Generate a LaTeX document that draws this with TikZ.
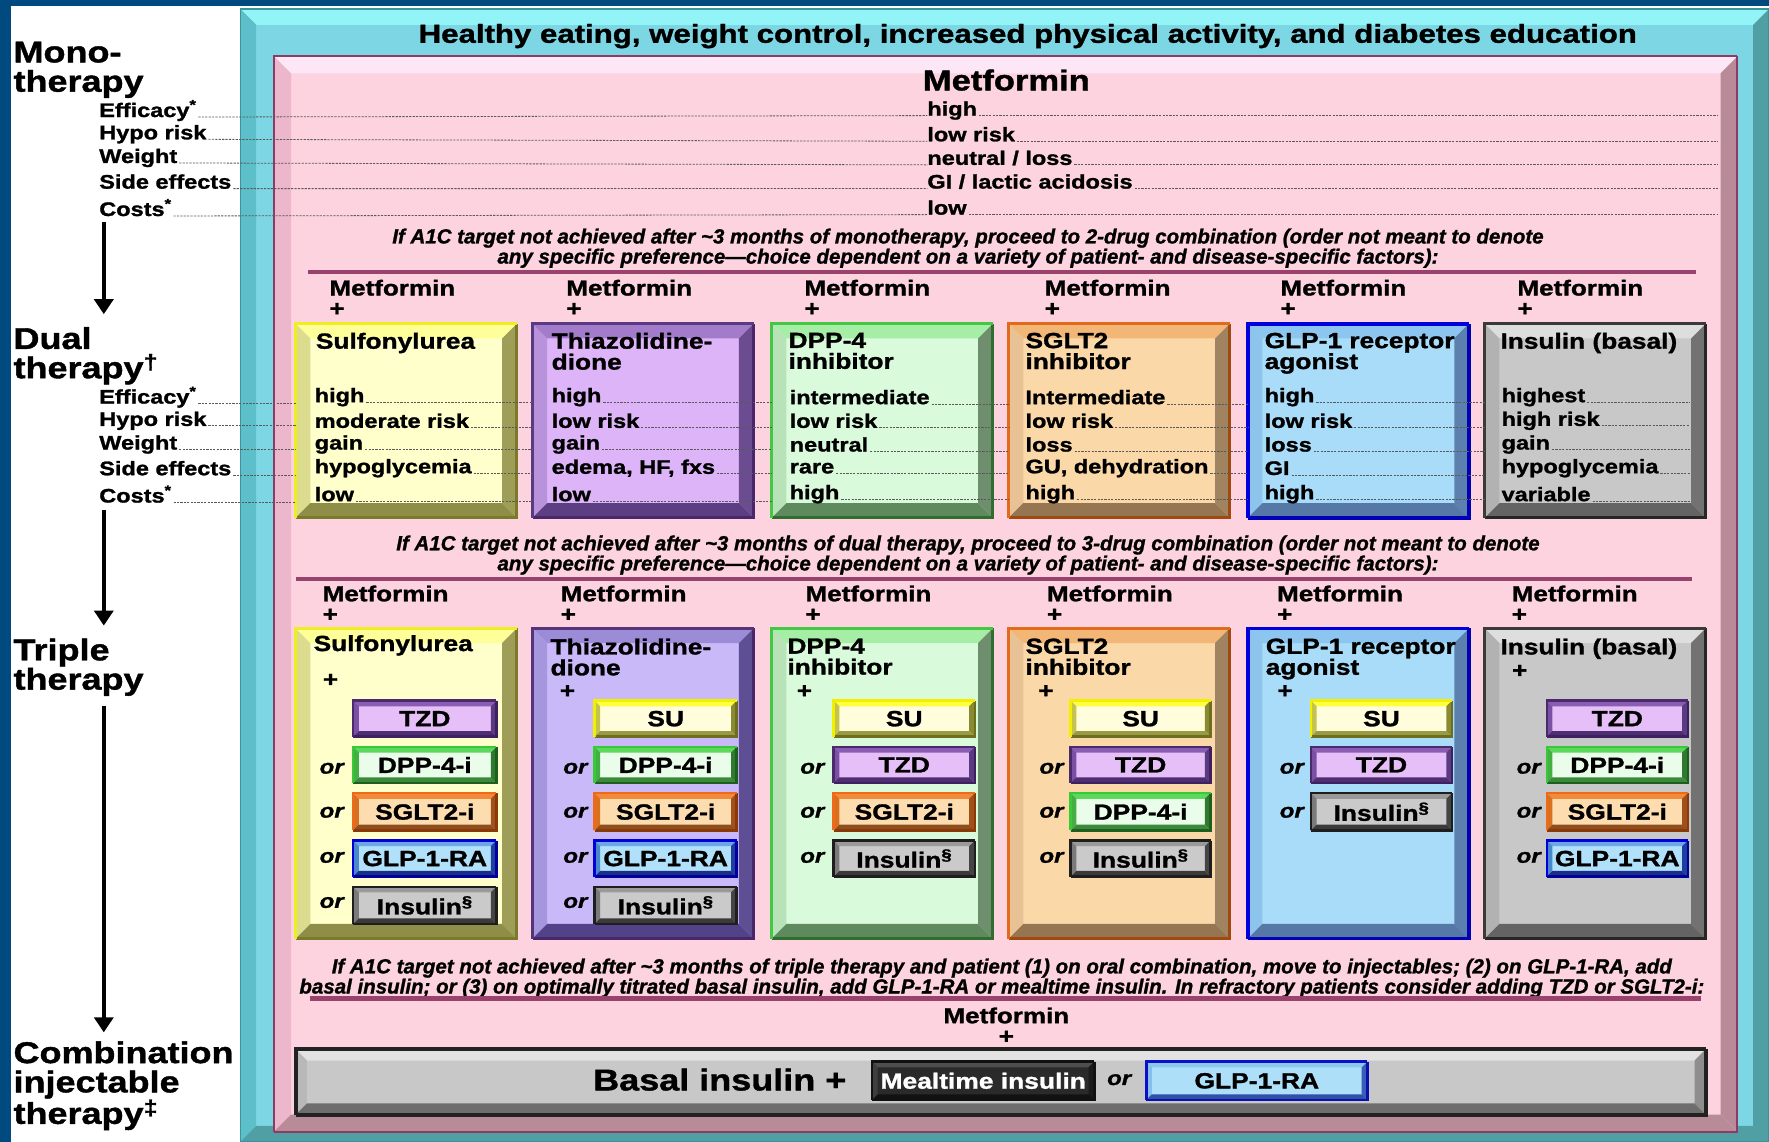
\documentclass[tikz,border=0pt]{standalone}
\usepackage{fontspec}
\setmainfont{Liberation Sans}[FakeStretch=1.2, BoldFeatures={FakeBold=1.3}, BoldItalicFeatures={FakeBold=1.3}]
\newfontfamily\notefont{Liberation Sans}[FakeStretch=1.0, BoldItalicFeatures={FakeBold=1.2}]
\usetikzlibrary{calc,fit,arrows.meta}

\newcommand\scheme[8]{%
  \definecolor{#1-f}{HTML}{#2}\definecolor{#1-t}{HTML}{#3}%
  \definecolor{#1-l}{HTML}{#4}\definecolor{#1-r}{HTML}{#5}%
  \definecolor{#1-b}{HTML}{#6}\definecolor{#1-lt}{HTML}{#7}%
  \definecolor{#1-ld}{HTML}{#8}}
\scheme{teal}{7DD6E3}{92F4F7}{5DBFC9}{4F9FA4}{4F9FA4}{3A949B}{3A949B}
\scheme{pink}{FCD3DF}{FDE6F5}{ECB6CB}{B98B98}{B98B98}{8C3C64}{8C3C64}
\scheme{bsu}{FFFFCC}{FFFF99}{DCDC8E}{9E9E58}{8E8E48}{EEEE20}{7A7A28}
\scheme{btzd}{DEB4F8}{A27CCB}{B892DA}{6C4C90}{5E3E82}{5A3A80}{48286A}
\scheme{ttzd}{C9B9F8}{9C8CD8}{A696DE}{5E4E94}{52428A}{55357A}{48286A}
\scheme{bdpp}{DAFADC}{A6EEA6}{B8E2B8}{6E8E6E}{5E8A5E}{44C844}{2E6E2E}
\scheme{bsg}{FBD8A8}{F2B676}{E8C294}{A08462}{967652}{E26A1A}{A04A10}
\scheme{bglp}{A8DCF8}{8CC6F0}{8CC4EC}{5C80AE}{5678A6}{0000DC}{0000B4}
\scheme{bins}{C8C8C8}{DEDEDE}{B2B2B2}{727272}{646464}{3A3A3A}{262626}
\scheme{psu}{FFFDDC}{FFFF3C}{C4C44C}{8A8A30}{9A9A42}{F0F000}{6E6E20}
\scheme{ptzd}{E6BEF8}{8A5CB4}{7A50A4}{5A3A80}{4E2E72}{4A2A6A}{3E2060}
\scheme{pdpp}{EAFCEA}{5CD85C}{44B044}{2E7A2E}{3A8A3A}{38C838}{1E5E1E}
\scheme{psg}{FDDDB0}{F28A3A}{D8701E}{A05018}{8E4E1E}{EE6A1A}{8A3A08}
\scheme{pglp}{B0E0FA}{6CA8E8}{4A88CC}{1E3EA0}{1A2E88}{0000D8}{00009C}
\scheme{pins}{CACACA}{9A9A9A}{7A7A7A}{444444}{3A3A3A}{1E1E1E}{1E1E1E}
\scheme{pblk}{2A2A2A}{4E4E4E}{3E3E3E}{1A1A1A}{121212}{111111}{111111}
\scheme{fglp}{ADDFF9}{8CC8F0}{86C0EA}{3A5EB8}{3050A8}{0A10C8}{0A10B0}
\scheme{bbig}{C8C8C8}{E2E2E2}{B8B8B8}{8E8E8E}{6E6E6E}{222222}{222222}
\definecolor{navy}{HTML}{014A7F}
\definecolor{sepc}{HTML}{9A426E}
\definecolor{leadc}{HTML}{5A5A5A}

\newcommand\bevbox[6]{%
  \node[fit={(#2) (#3)}, inner sep=0pt, outer sep=0pt, fill=#5-f] (#1) {};
  \fill[#5-t] (#1.north west) -- (#1.north east) -- ($(#1.north east)+(-#4,#4)$) -- ($(#1.north west)+(#4,#4)$) -- cycle;
  \fill[#5-l] (#1.north west) -- ($(#1.north west)+(#4,#4)$) -- ($(#1.south west)+(#4,-#4)$) -- (#1.south west) -- cycle;
  \fill[#5-r] (#1.north east) -- (#1.south east) -- ($(#1.south east)+(-#4,-#4)$) -- ($(#1.north east)+(-#4,#4)$) -- cycle;
  \fill[#5-b] (#1.south west) -- (#1.south east) -- ($(#1.south east)+(-#4,-#4)$) -- ($(#1.south west)+(#4,-#4)$) -- cycle;
  \draw[#5-ld, line width=#6] (#1.north east) -- (#1.south east) -- (#1.south west);
  \draw[#5-lt, line width=#6] (#1.south west) -- (#1.north west) -- (#1.north east);
}
\newcommand\fbig{\fontsize{30pt}{29.3pt}\selectfont\bfseries}
\newcommand\flab{\fontsize{19.6pt}{20pt}\selectfont\bfseries}
\newcommand\ftitle{\fontsize{26pt}{27pt}\selectfont\bfseries}
\newcommand\fmet{\fontsize{28.8pt}{30pt}\selectfont\bfseries}
\newcommand\fhead{\fontsize{21.7pt}{20.3pt}\selectfont\bfseries}
\newcommand\fbt{\fontsize{21.9pt}{20.9pt}\selectfont\bfseries}
\newcommand\fval{\fontsize{19.6pt}{20pt}\selectfont\bfseries}
\newcommand\fpill{\fontsize{22pt}{22pt}\selectfont\bfseries}
\newcommand\forr{\fontsize{20pt}{20pt}\selectfont\bfseries\itshape}
\newcommand\fnote{\notefont\fontsize{20.5pt}{18.8pt}\selectfont\bfseries\itshape}
\newcommand\fbasal{\fontsize{30pt}{30pt}\selectfont\bfseries}
\newcommand\pill[5]{\bevbox{#1}{#2}{#3}{5}{#4}{2.5pt}\node[font=\fpill] (#1-t) at (#1.center) {#5};}

\begin{document}
\begin{tikzpicture}[x=1.1282pt,y=-1.1282pt,
  every node/.style={inner sep=0pt,outer sep=0pt},
  lab/.style={anchor=west,font=\flab},
  val/.style={anchor=west,font=\fval},
  big/.style={anchor=north west,align=left,font=\fbig},
  head/.style={anchor=north west,align=left,font=\fhead},
  btitle/.style={anchor=north west,align=left,font=\fbt},
  orn/.style={font=\forr},
  note/.style={align=center,font=\fnote},
  leader/.style={leadc,line width=0.8pt,dash pattern=on 2.2pt off 1.2pt,shorten <=2pt},
  sepline/.style={sepc,line width=4.5pt},
  bigarr/.style={line width=3.6pt,-{Triangle[width=19pt,length=15pt]}}]
\useasboundingbox (0,0) rectangle (1568,1012);
% background frame
\fill[white] (0,0) rectangle (1568,1012);
\fill[navy] (0,0) rectangle (1568,5);
\fill[navy] (0,0) rectangle (10,1012);
% panels
\bevbox{tealp}{213,8}{1568,1012}{14}{teal}{1.5pt}
\bevbox{pinkp}{243,50}{1540,1003}{15}{pink}{2pt}
\node[font=\ftitle] (title) at (911,32) {Healthy eating, weight control, increased physical activity, and diabetes education};
\node[font=\fmet] (met0) at (892,71) {Metformin};
% left column
\node[big] (L1) at (12,37) {Mono-\\therapy};
\node[big] (L2) at (12,290) {Dual\\therapy\textsuperscript{†}};
\node[big] (L3) at (12,566) {Triple\\therapy};
\node[big] (L4) at (12,923) {Combination\\injectable\\therapy\textsuperscript{‡}};
\coordinate (ax) at (92,0);
\coordinate (mend) at (1523,0);
\coordinate (dend) at (1498,0);
% mono labels and values
\node[lab] (m1) at (88,98) {Efficacy\textsuperscript{*}};
\node[lab] (m2) at (88,119) {Hypo risk};
\node[lab] (m3) at (88,140) {Weight};
\node[lab] (m4) at (88,161) {Side effects};
\node[lab] (m5) at (88,184) {Costs\textsuperscript{*}};
\node[val] (mv1) at (822,98) {high};
\node[val] (mv2) at (822,119) {low risk};
\node[val] (mv3) at (822,140) {neutral / loss};
\node[val] (mv4) at (822,161) {GI / lactic acidosis};
\node[val] (mv5) at (822,184) {low};
\foreach \r in {1,...,5}{
  \draw[leader] (m\r.base east) -- (mv\r.base west);
  \draw[leader] (mv\r.base east) -- (mv\r.base east -| mend);
}
\draw[bigarr,shorten <=6pt,shorten >=13pt] (m5.south -| ax) -- (L2.north -| ax);
% note 1
\node[note] (n1) at (858,220) {If A1C target not achieved after \textasciitilde3 months of monotherapy, proceed to 2-drug combination (order not meant to denote\\any specific preference\textemdash choice dependent on a variety of patient- and disease-specific factors):};
\draw[sepline] (273,241) -- (1503,241);
% dual headers
\node[head] (hd1) at (292,248) {Metformin\\+};
\node[head] (hd2) at (502,248) {Metformin\\+};
\node[head] (hd3) at (713,248) {Metformin\\+};
\node[head] (hd4) at (926,248) {Metformin\\+};
\node[head] (hd5) at (1135,248) {Metformin\\+};
\node[head] (hd6) at (1345,248) {Metformin\\+};
% dual boxes
\bevbox{b1}{262,287}{458,459}{13}{bsu}{3pt}
\bevbox{b2}{472,287}{668,459}{13}{btzd}{3pt}
\bevbox{b3}{684,287}{880,459}{13}{bdpp}{3pt}
\bevbox{b4}{894,287}{1090,459}{13}{bsg}{3pt}
\bevbox{b5}{1106,287}{1302,459}{13}{bglp}{3.5pt}
\bevbox{b6}{1316,287}{1512,459}{13}{bins}{3pt}
\node[btitle] (bt1) at (280,295) {Sulfonylurea};
\node[btitle] (bt2) at (489,295) {Thiazolidine-\\dione};
\node[btitle] (bt3) at (699,295) {DPP-4\\inhibitor};
\node[btitle] (bt4) at (909,295) {SGLT2\\inhibitor};
\node[btitle] (bt5) at (1121,295) {GLP-1 receptor\\agonist};
\node[btitle] (bt6) at (1330,295) {Insulin (basal)};
% dual labels
\node[lab] (d1) at (88,352) {Efficacy\textsuperscript{*}};
\node[lab] (d2) at (88,373) {Hypo risk};
\node[lab] (d3) at (88,394) {Weight};
\node[lab] (d4) at (88,415) {Side effects};
\node[lab] (d5) at (88,438) {Costs\textsuperscript{*}};
% dual values
\node[val] (v11) at (279,352) {high};
\node[val] (v12) at (279,373) {moderate risk};
\node[val] (v13) at (279,394) {gain};
\node[val] (v14) at (279,415) {hypoglycemia};
\node[val] (v15) at (279,438) {low};
\node[val] (v21) at (489,352) {high};
\node[val] (v22) at (489,373) {low risk};
\node[val] (v23) at (489,394) {gain};
\node[val] (v24) at (489,415) {edema, HF, fxs};
\node[val] (v25) at (489,438) {low};
\node[val] (v31) at (700,352) {intermediate};
\node[val] (v32) at (700,373) {low risk};
\node[val] (v33) at (700,394) {neutral};
\node[val] (v34) at (700,415) {rare};
\node[val] (v35) at (700,438) {high};
\node[val] (v41) at (909,352) {Intermediate};
\node[val] (v42) at (909,373) {low risk};
\node[val] (v43) at (909,394) {loss};
\node[val] (v44) at (909,415) {GU, dehydration};
\node[val] (v45) at (909,438) {high};
\node[val] (v51) at (1121,352) {high};
\node[val] (v52) at (1121,373) {low risk};
\node[val] (v53) at (1121,394) {loss};
\node[val] (v54) at (1121,415) {GI};
\node[val] (v55) at (1121,438) {high};
\node[val] (v61) at (1331,352) {highest};
\node[val] (v62) at (1331,373) {high risk};
\node[val] (v63) at (1331,394) {gain};
\node[val] (v64) at (1331,415) {hypoglycemia};
\node[val] (v65) at (1331,438) {variable};
\foreach \r in {1,...,5}{
  \draw[leader] (d\r.base east) -- (b1.west |- d\r.base);
  \foreach \i/\j in {1/2,2/3,3/4,4/5,5/6}{
    \draw[leader] (v\i\r.base east) -- (b\j.west |- v\i\r.base);
  }
  \draw[leader] (v6\r.base east) -- (dend |- v6\r.base);
}
\draw[bigarr,shorten <=7pt,shorten >=13pt] (d5.south -| ax) -- (L3.north -| ax);
% note 2
\node[note] (n2) at (858,492) {If A1C target not achieved after \textasciitilde3 months of dual therapy, proceed to 3-drug combination (order not meant to denote\\any specific preference\textemdash choice dependent on a variety of patient- and disease-specific factors):};
\draw[sepline] (262,513) -- (1500,513);
% triple headers
\node[head] (th1) at (286,519) {Metformin\\+};
\node[head] (th2) at (497,519) {Metformin\\+};
\node[head] (th3) at (714,519) {Metformin\\+};
\node[head] (th4) at (928,519) {Metformin\\+};
\node[head] (th5) at (1132,519) {Metformin\\+};
\node[head] (th6) at (1340,519) {Metformin\\+};
% triple boxes
\bevbox{t1}{262,557}{458,832}{13}{bsu}{3pt}
\bevbox{t2}{472,557}{668,832}{13}{ttzd}{3pt}
\bevbox{t3}{684,557}{880,832}{13}{bdpp}{3pt}
\bevbox{t4}{894,557}{1090,832}{13}{bsg}{3pt}
\bevbox{t5}{1106,557}{1302,832}{13}{bglp}{3.5pt}
\bevbox{t6}{1316,557}{1512,832}{13}{bins}{3pt}
\node[btitle] (tt1) at (278,563) {Sulfonylurea};
\node[btitle] (tt2) at (488,566) {Thiazolidine-\\dione};
\node[btitle] (tt3) at (698,566) {DPP-4\\inhibitor};
\node[btitle] (tt4) at (909,566) {SGLT2\\inhibitor};
\node[btitle] (tt5) at (1122,566) {GLP-1 receptor\\agonist};
\node[btitle] (tt6) at (1330,566) {Insulin (basal)};
\node[font=\fhead] (tp1) at (293,603) {+};
\node[font=\fhead] (tp2) at (503,613) {+};
\node[font=\fhead] (tp3) at (713,613) {+};
\node[font=\fhead] (tp4) at (927,613) {+};
\node[font=\fhead] (tp5) at (1139,613) {+};
\node[font=\fhead] (tp6) at (1347,595) {+};
% pills box 1
\pill{p11}{313,621}{440,653}{ptzd}{TZD}
\pill{p12}{313,662}{440,694}{pdpp}{DPP-4-i}
\pill{p13}{313,703}{440,736}{psg}{SGLT2-i}
\pill{p14}{313,745}{440,777}{pglp}{GLP-1-RA}
\pill{p15}{313,786}{440,819}{pins}{Insulin\textsuperscript{§}}
\node[orn] (o12) at (294,681) {or};
\node[orn] (o13) at (294,720) {or};
\node[orn] (o14) at (294,760) {or};
\node[orn] (o15) at (294,800) {or};
% pills box 2
\pill{p21}{527,621}{653,653}{psu}{SU}
\pill{p22}{527,662}{653,694}{pdpp}{DPP-4-i}
\pill{p23}{527,703}{653,736}{psg}{SGLT2-i}
\pill{p24}{527,745}{653,777}{pglp}{GLP-1-RA}
\pill{p25}{527,786}{653,819}{pins}{Insulin\textsuperscript{§}}
\node[orn] (o22) at (510,681) {or};
\node[orn] (o23) at (510,720) {or};
\node[orn] (o24) at (510,760) {or};
\node[orn] (o25) at (510,800) {or};
% pills box 3
\pill{p31}{739,621}{864,653}{psu}{SU}
\pill{p32}{739,662}{864,694}{ptzd}{TZD}
\pill{p33}{739,703}{864,736}{psg}{SGLT2-i}
\pill{p34}{739,745}{864,777}{pins}{Insulin\textsuperscript{§}}
\node[orn] (o32) at (720,681) {or};
\node[orn] (o33) at (720,720) {or};
\node[orn] (o34) at (720,760) {or};
% pills box 4
\pill{p41}{949,621}{1073,653}{psu}{SU}
\pill{p42}{949,662}{1073,694}{ptzd}{TZD}
\pill{p43}{949,703}{1073,736}{pdpp}{DPP-4-i}
\pill{p44}{949,745}{1073,777}{pins}{Insulin\textsuperscript{§}}
\node[orn] (o42) at (932,681) {or};
\node[orn] (o43) at (932,720) {or};
\node[orn] (o44) at (932,760) {or};
% pills box 5
\pill{p51}{1162,621}{1287,653}{psu}{SU}
\pill{p52}{1162,662}{1287,694}{ptzd}{TZD}
\pill{p53}{1162,703}{1287,736}{pins}{Insulin\textsuperscript{§}}
\node[orn] (o52) at (1145,681) {or};
\node[orn] (o53) at (1145,720) {or};
% pills box 6
\pill{p61}{1371,621}{1496,653}{ptzd}{TZD}
\pill{p62}{1371,662}{1496,694}{pdpp}{DPP-4-i}
\pill{p63}{1371,703}{1496,736}{psg}{SGLT2-i}
\pill{p64}{1371,745}{1496,777}{pglp}{GLP-1-RA}
\node[orn] (o62) at (1355,681) {or};
\node[orn] (o63) at (1355,720) {or};
\node[orn] (o64) at (1355,760) {or};
\draw[bigarr,shorten <=10pt,shorten >=9pt] (L3.south -| ax) -- (L4.north -| ax);
% note 3
\node[note] (n3) at (888,867) {If A1C target not achieved after \textasciitilde3 months of triple therapy and patient (1) on oral combination, move to injectables; (2) on GLP-1-RA, add\\basal insulin; or (3) on optimally titrated basal insulin, add GLP-1-RA or mealtime insulin. In refractory patients consider adding TZD or SGLT2-i:};
\draw[sepline] (275,885) -- (1508,885);
% final row
\node[head,anchor=center,align=center] (fm) at (892,909) {Metformin\\+};
\bevbox{b7}{262,930}{1512,988}{10}{bbig}{4pt}
\node[font=\fbasal] (basal) at (638,957) {Basal insulin +};
\pill{meal}{773,941}{970,975}{pblk}{\color{white}Mealtime insulin}
\node[orn] (o7) at (992,957) {or};
\pill{glpf}{1016,941}{1212,975}{fglp}{GLP-1-RA}
\end{tikzpicture}
\end{document}
